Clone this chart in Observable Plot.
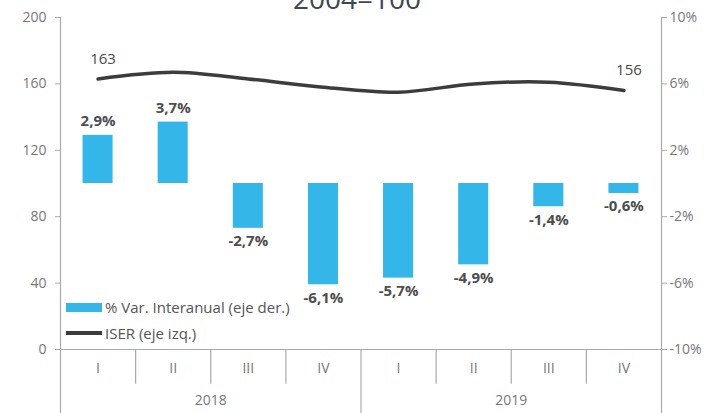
<!DOCTYPE html>
<html>
<head>
<meta charset="utf-8">
<script src="https://cdn.jsdelivr.net/npm/d3@7"></script>
<script src="https://cdn.jsdelivr.net/npm/@observablehq/plot@0.6"></script>
<style>
  html, body { margin: 0; padding: 0; background: #fff; }
  #wrap { position: relative; width: 714px; height: 413px; overflow: hidden; font-family: "Open Sans", sans-serif; }
  #title { position: absolute; left: 0; top: -16px; width: 714px; text-align: center; font-size: 28px; line-height: 28px; color: #3b4856; }
  .leg { position: absolute; left: 66px; display: flex; align-items: center; font-size: 15px; color: #555; }
  .sw { width: 36px; margin-right: 3px; }
</style>
</head>
<body>
<div id="wrap">
  <div id="chart"></div>
  <div id="title">2004=100</div>
  <div class="leg" style="top:297px"><div class="sw" style="height:9px;background:#34b6e8"></div>% Var. Interanual (eje der.)</div>
  <div class="leg" style="top:323px"><div class="sw" style="height:3.5px;background:#3c3c3c"></div>ISER (eje izq.)</div>
</div>
<script>
const quarters = ["I", "II", "III", "IV", "I", "II", "III", "IV"];
const years = ["2018", "2019"];
const pctVar = [2.9, 3.7, -2.7, -6.1, -5.7, -4.9, -1.4, -0.6];
const iser = [163, 167, 163, 158, 155, 160, 161, 156];
const leftTicks = [0, 40, 80, 120, 160, 200];

const rows = quarters.map((q, i) => ({i, q, pct: pctVar[i], iser: iser[i]}));
// right axis: pct = (left - 100) / 10
const toLeft = p => 100 + p * 10;
const fmtPct = p => p.toFixed(1).replace(".", ",") + "%";
const gray = "#aaaaaa";
const txt = "#777777";

const chart = Plot.plot({
  width: 714,
  height: 413,
  marginLeft: 60,
  marginRight: 53,
  marginTop: 17,
  marginBottom: 64,
  style: {fontFamily: "Open Sans, sans-serif", background: "transparent"},
  x: {type: "linear", domain: [0, 8], axis: null},
  y: {domain: [0, 200], axis: null},
  marks: [
    Plot.axisY({anchor: "left", label: null, ticks: leftTicks, tickSize: 5, tickPadding: 9, fontSize: 14, color: txt, stroke: gray}),
    Plot.axisY({anchor: "right", label: null, ticks: leftTicks, tickSize: 5, tickPadding: 3, fontSize: 14, color: txt, stroke: gray,
      tickFormat: d => ((d - 100) / 10) + "%"}),
    // baseline and axis lines
    Plot.ruleY([0], {stroke: gray, strokeWidth: 1.2}),
    Plot.ruleX([0, 8], {y1: 200, y2: -40, stroke: gray, strokeWidth: 1.2}),
    Plot.ruleX([4], {y1: 0, y2: -40, stroke: gray, strokeWidth: 1.2}),
    Plot.ruleX([1, 2, 3, 5, 6, 7], {y1: 0, y2: -21, stroke: gray, strokeWidth: 1.2}),
    // bars
    Plot.rectY(rows, {x1: d => d.i + 0.3, x2: d => d.i + 0.7, y1: 100, y2: d => toLeft(d.pct), fill: "#34b6e8"}),
    Plot.text(rows.filter(d => d.pct >= 0), {x: d => d.i + 0.5, y: d => toLeft(d.pct), text: d => fmtPct(d.pct),
      dy: -14, fontSize: 15, fontWeight: "bold", fill: "#4d4d4d"}),
    Plot.text(rows.filter(d => d.pct < 0), {x: d => d.i + 0.5, y: d => toLeft(d.pct), text: d => fmtPct(d.pct),
      dy: 13, fontSize: 15, fontWeight: "bold", fill: "#4d4d4d"}),
    // ISER line
    Plot.line(rows, {x: d => d.i + 0.5, y: "iser", curve: "catmull-rom", stroke: "#3c3c3c", strokeWidth: 3.5}),
    Plot.text([rows[0], rows[rows.length - 1]], {x: d => d.i + 0.5, y: "iser", text: d => String(d.iser),
      dy: -20, dx: 5, fontSize: 15, fill: "#4a4a4a"}),
    // category axis labels
    Plot.text(rows, {x: d => d.i + 0.5, text: "q", frameAnchor: "bottom", dy: 23, fontSize: 14, fill: txt}),
    Plot.text(years, {x: (d, k) => 2 + 4 * k, text: d => d, frameAnchor: "bottom", dy: 55, fontSize: 14, fill: txt})
  ]
});
document.getElementById("chart").appendChild(chart);
</script>
</body>
</html>
